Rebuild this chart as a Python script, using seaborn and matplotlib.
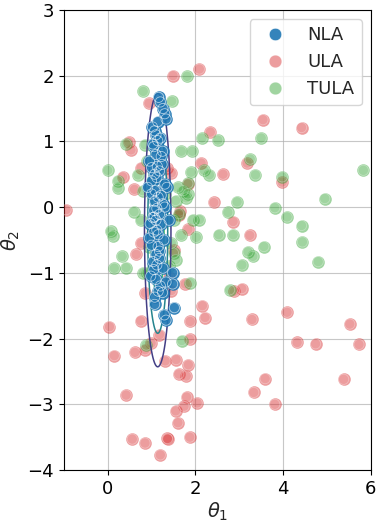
import numpy as np
import pandas as pd
import matplotlib
matplotlib.use("Agg")
import matplotlib.pyplot as plt
from matplotlib.lines import Line2D
import seaborn as sns

# ---------------- data ----------------
nla_x = [1.16, 1.20, 1.26, 1.30, 1.33, 1.07, 1.10, 1.14, 1.03, 1.22, 1.25, 0.95, 1.00,
         1.07, 1.12, 1.30, 1.35, 0.91, 1.00, 1.07, 1.15, 1.25, 1.05, 1.18, 1.03, 1.10,
         1.22, 0.95, 1.05, 1.15, 1.18, 1.00, 1.10, 1.03, 1.12, 1.26, 1.48, 1.48, 1.33,
         1.07, 1.07, 1.52, 1.29, 1.33, 1.20, 1.10, 0.98, 1.15, 1.25, 1.05, 1.13, 1.00,
         1.18, 1.08, 1.22, 1.12, 0.97, 1.28, 1.05, 1.15, 1.02, 1.20, 1.10, 1.30, 1.12,
         1.40, 1.18, 1.06, 1.24, 1.14]
nla_y = [1.67, 1.60, 1.50, 1.42, 1.34, 1.16, 1.10, 1.01, 0.96, 0.77, 0.85, 0.70, 0.60,
         0.50, 0.45, 0.35, 0.30, 0.30, 0.20, 0.09, 0.15, 0.05, -0.05, -0.11, -0.16, -0.20,
         -0.26, -0.47, -0.38, -0.42, -0.67, -0.58, -0.72, -0.83, -0.88, -0.93, -1.00, -1.17,
         -1.14, -1.37, -1.48, -1.53, -1.64, -1.72, -1.20, -1.10, -1.05, -1.28, -1.30, 0.92,
         0.62, 0.40, 0.55, 0.25, 0.18, -0.02, -0.25, -0.50, -0.95, -0.60, 1.22, 1.05, 0.80,
         0.00, -0.35, -0.20, -0.78, -0.15, 0.65, 1.30]

ula_x = [-0.95, 2.09, 1.49, 0.94, 3.54, 4.42, 2.34, 0.48, 0.53, 2.13, 2.63, 3.18, 3.98,
         0.34, 0.61, 1.45, 0.76, 1.83, 2.42, 2.86, 3.24, 1.83, 1.64, 0.76, 0.65, 1.52,
         0.04, 0.15, 0.42, 0.56, 0.85, 1.20, 1.36, 1.87, 0.62, 0.85, 0.75, 0.86, 1.18,
         0.99, 1.31, 1.56, 1.62, 1.79, 1.84, 1.87, 1.88, 2.16, 2.22, 1.77, 1.45, 1.39,
         3.06, 2.89, 3.29, 4.09, 4.32, 4.74, 5.52, 5.73, 5.38, 3.59, 3.33, 3.81, 2.04,
         1.80, 1.74, 1.55, 1.60, 1.37, 1.62, 1.00, 1.35]
ula_y = [-0.04, 2.10, 2.00, 1.58, 1.33, 1.21, 1.14, 0.99, 0.87, 0.67, 0.50, 0.67, 0.38,
         0.46, 0.27, 0.52, 0.60, 0.35, 0.07, -0.22, -0.43, -0.34, -0.06, -0.55, -0.72, -0.66,
         -1.82, -2.26, -2.86, -3.53, -3.59, -3.77, -3.52, -3.50, -2.21, -2.17, -1.73, -1.31,
         -1.94, -2.07, -2.34, -2.32, -2.54, -2.57, -2.40, -2.01, -1.74, -1.50, -1.68, -1.17,
         -1.27, -1.06, -1.24, -1.28, -1.71, -1.60, -2.06, -2.08, -1.78, -2.09, -2.62, -2.61,
         -2.82, -3.00, -2.98, -2.89, -3.03, -3.10, -3.28, -3.53, -0.12, -0.40, 0.60]

tula_x = [0.81, 1.81, 1.46, 2.15, 2.51, 3.50, 1.68, 1.93, 0.42, 0.00, 0.23, 0.23, 0.69,
          1.90, 2.20, 2.32, 3.25, 3.37, 3.98, 5.83, 1.83, 1.83, 1.79, 4.95, 2.95, 3.81,
          4.09, 4.42, 4.44, 4.80, 3.56, 3.20, 3.31, 3.06, 2.74, 2.53, 2.86, 2.02, 1.68,
          1.94, 2.09, 0.60, 0.07, 0.11, 0.33, 0.15, 0.42, 0.81, 1.88, 2.78, 1.69, 0.88,
          0.85, 0.90, 0.80, 1.60, 1.50, 1.45, 1.55, 0.90, 0.75, 0.95, 1.55, 1.00, 1.30,
          1.40, 1.50, 1.62, 1.72]
tula_y = [1.76, 1.99, 1.61, 1.05, 1.02, 1.05, 0.85, 0.85, 0.96, 0.56, 0.40, 0.29, 0.49,
          0.53, 0.56, 0.49, 0.73, 0.49, 0.46, 0.56, 0.36, 0.20, 0.14, 0.13, 0.08, -0.01,
          -0.15, -0.28, -0.53, -0.83, -0.60, -0.68, -0.75, -0.88, -0.08, -0.42, -0.42, -0.46,
          -0.43, -0.19, -0.19, -0.07, -0.37, -0.44, -0.75, -0.93, -0.92, -1.00, -1.15, -1.26,
          -2.03, -2.10, 0.95, 0.70, 0.25, 0.30, -0.20, -0.55, -0.80, -1.00, -0.20, -0.60,
          0.10, 0.40, 0.20, -0.90, -0.70, -0.10, 0.25]

labels = ["NLA", "ULA", "TULA"]
x_ticks = [0, 2, 4, 6]
y_ticks = [-4, -3, -2, -1, 0, 1, 2, 3]

# target Gaussian (for the contour lines)
target_mean = (1.14, -0.35)
target_std = (0.145, 1.0)
contour_radii = [2.08, 1.57, 1.0]

# ---------------- plot ----------------
sns.set_style("white")
plt.rcParams['font.family'] = ['DejaVu Sans']
fig = plt.figure(figsize=(3.78, 5.22), dpi=100)
ax = fig.add_axes([0.169, 0.0996, 0.812, 0.8814])

colors = {"NLA": "#1f77b4", "ULA": "#d62728", "TULA": "#2ca02c"}
alphas = {"NLA": 0.9, "ULA": 0.45, "TULA": 0.45}
S_FILL = 82
S_RING = 54


def draw(df, name, z):
    c = colors[name]
    a = alphas[name]
    sns.scatterplot(data=df, x="x", y="y", ax=ax, color=c, alpha=a, s=S_FILL,
                    linewidth=0, zorder=z, legend=False)
    sns.scatterplot(data=df, x="x", y="y", ax=ax, facecolor="none", edgecolor="white",
                    alpha=0.7 * a, s=S_RING, linewidth=0.6, zorder=z, legend=False)


ula = pd.DataFrame({"x": ula_x, "y": ula_y})
tula = pd.DataFrame({"x": tula_x, "y": tula_y})
nla = pd.DataFrame({"x": nla_x, "y": nla_y})

draw(ula, "ULA", 3)
draw(tula, "TULA", 3)

# contours of target density
gx = np.linspace(-1, 6, 400)
gy = np.linspace(-4, 3, 600)
GX, GY = np.meshgrid(gx, gy)
R2 = ((GX - target_mean[0]) / target_std[0]) ** 2 + ((GY - target_mean[1]) / target_std[1]) ** 2
Z = np.exp(-0.5 * R2)
levels = sorted(np.exp(-0.5 * np.array(contour_radii) ** 2))
cmap = plt.get_cmap("viridis")
ax.contour(GX, GY, Z, levels=levels, colors=[cmap(0.18), cmap(0.45), cmap(0.7)],
           linewidths=1.1, zorder=4)

draw(nla, "NLA", 5)

ax.set_xlim(-1, 6)
ax.set_ylim(-4, 3)
ax.set_xticks(x_ticks)
ax.set_yticks(y_ticks)
ax.set_xticklabels([str(t) for t in x_ticks])
ax.set_yticklabels([str(t).replace("-", "\u2212") for t in y_ticks])
ax.tick_params(labelsize=13, length=3.5, width=0.8, colors="black", left=True, bottom=True)
ax.set_xlabel(r"$\theta_1$", fontsize=14, labelpad=2)
ax.set_ylabel(r"$\theta_2$", fontsize=14, labelpad=4)
ax.grid(True, color="#b0b0b0", linewidth=0.8, alpha=0.7)
for sp in ax.spines.values():
    sp.set_color("black")
    sp.set_linewidth(0.8)

handles = [Line2D([], [], linestyle="none", marker="o", markersize=S_FILL ** 0.5,
                  markerfacecolor=colors[n], markeredgecolor="white", markeredgewidth=0.5,
                  alpha=alphas[n]) for n in labels]
leg = ax.legend(handles, labels, loc="upper right", fontsize=13, handletextpad=0.8,
                borderpad=0.4, labelspacing=0.5, frameon=True)
leg.get_frame().set_edgecolor("#cccccc")

fig.savefig("out.png", dpi=100)
